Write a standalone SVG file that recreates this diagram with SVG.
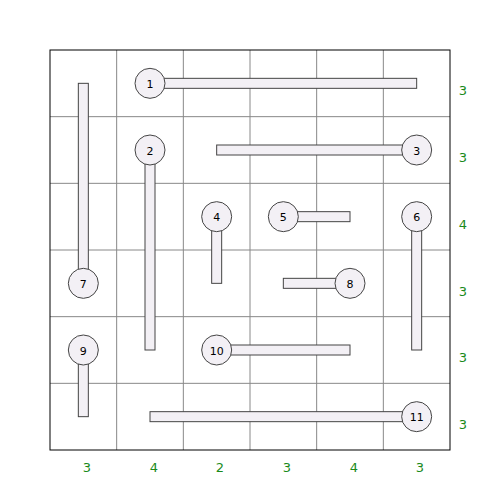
<svg xmlns="http://www.w3.org/2000/svg" width="500" height="500" viewBox="0 0 500 500">
<style>
.g{stroke:#888;stroke-width:1;fill:none}
.b{fill:#f3f0f5;stroke:#444;stroke-width:1}
.c{fill:#f3f0f5;stroke:#444;stroke-width:1}
.t{font-family:"DejaVu Sans",sans-serif;font-size:11px;text-anchor:middle;dominant-baseline:central;fill:#000}
.n{font-family:"DejaVu Sans",sans-serif;font-size:13px;text-anchor:middle;dominant-baseline:central;fill:#1a8a1a}
</style>
<rect width="500" height="500" fill="#fff"/>
<g id="grid">
<path class="g" d="M116.67 50V450M183.33 50V450M250 50V450M316.67 50V450M383.33 50V450M50 116.67H450M50 183.33H450M50 250H450M50 316.67H450M50 383.33H450"/>
<rect x="50" y="50" width="400" height="400" fill="none" stroke="#000" stroke-width="1"/>
</g>
<g id="connectors">
<rect class="b" x="150" y="78.33" width="266.67" height="10"/>
<rect class="b" x="145" y="150" width="10" height="200"/>
<rect class="b" x="216.67" y="145" width="200" height="10"/>
<rect class="b" x="211.67" y="216.67" width="10" height="66.67"/>
<rect class="b" x="283.33" y="211.67" width="66.67" height="10"/>
<rect class="b" x="411.67" y="216.67" width="10" height="133.33"/>
<rect class="b" x="78.33" y="83.33" width="10" height="200"/>
<rect class="b" x="283.33" y="278.33" width="66.67" height="10"/>
<rect class="b" x="78.33" y="350" width="10" height="66.67"/>
<rect class="b" x="216.67" y="345" width="133.33" height="10"/>
<rect class="b" x="150" y="411.67" width="266.67" height="10"/>
</g>
<g id="n1"><circle class="c" cx="150" cy="83.33" r="15"/><text class="t" x="150" y="84">1</text></g>
<g id="n2"><circle class="c" cx="150" cy="150" r="15"/><text class="t" x="150" y="151">2</text></g>
<g id="n3"><circle class="c" cx="416.67" cy="150" r="15"/><text class="t" x="416.67" y="151">3</text></g>
<g id="n4"><circle class="c" cx="216.67" cy="216.67" r="15"/><text class="t" x="216.67" y="217">4</text></g>
<g id="n5"><circle class="c" cx="283.33" cy="216.67" r="15"/><text class="t" x="283.33" y="217">5</text></g>
<g id="n6"><circle class="c" cx="416.67" cy="216.67" r="15"/><text class="t" x="416.67" y="217">6</text></g>
<g id="n7"><circle class="c" cx="83.33" cy="283.33" r="15"/><text class="t" x="83.33" y="284">7</text></g>
<g id="n8"><circle class="c" cx="350" cy="283.33" r="15"/><text class="t" x="350" y="284">8</text></g>
<g id="n9"><circle class="c" cx="83.33" cy="350" r="15"/><text class="t" x="83.33" y="351">9</text></g>
<g id="n10"><circle class="c" cx="216.67" cy="350" r="15"/><text class="t" x="216.67" y="351">10</text></g>
<g id="n11"><circle class="c" cx="416.67" cy="416.67" r="15"/><text class="t" x="416.67" y="417">11</text></g>
<g id="rowcounts">
<text class="n" x="463" y="90">3</text>
<text class="n" x="463" y="157">3</text>
<text class="n" x="463" y="224">4</text>
<text class="n" x="463" y="291">3</text>
<text class="n" x="463" y="357">3</text>
<text class="n" x="463" y="424">3</text>
</g>
<g id="colcounts">
<text class="n" x="87" y="467">3</text>
<text class="n" x="154" y="467">4</text>
<text class="n" x="220" y="467">2</text>
<text class="n" x="287" y="467">3</text>
<text class="n" x="354" y="467">4</text>
<text class="n" x="420" y="467">3</text>
</g>
</svg>
